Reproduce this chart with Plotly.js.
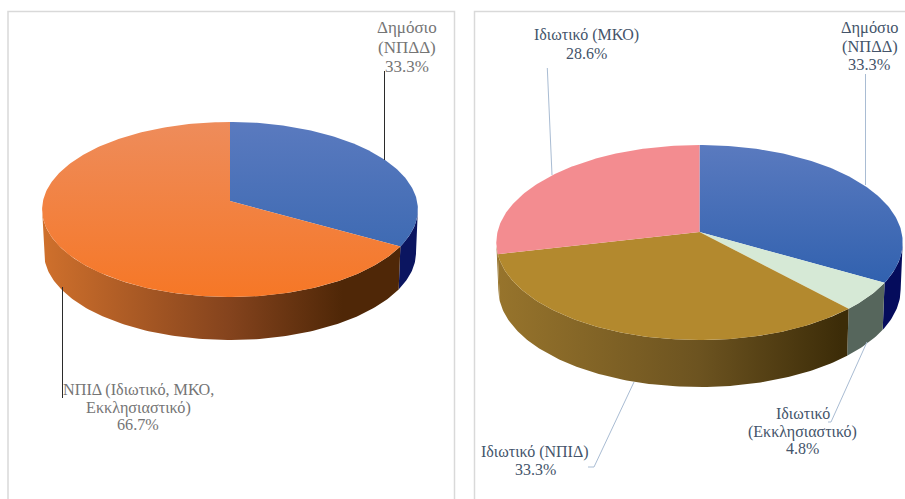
<!DOCTYPE html>
<html><head><meta charset="utf-8">
<script src="https://cdn.plot.ly/plotly-3.0.1.min.js"></script>
<style>html,body{margin:0;padding:0;background:#fff}#c{width:905px;height:499px}</style>
</head><body><div id="c"></div>
<script>
// Data
const leftCategories = ['Δημόσιο<br>(ΝΠΔΔ)', 'ΝΠΙΔ (Ιδιωτικό, ΜΚΟ,<br>Εκκλησιαστικό)'];
const leftValues = [33.3, 66.7];
const rightCategories = ['Δημόσιο<br>(ΝΠΔΔ)', 'Ιδιωτικό<br>(Εκκλησιαστικό)', 'Ιδιωτικό (ΝΠΙΔ)', 'Ιδιωτικό (ΜΚΟ)'];
const rightValues = [33.3, 4.8, 33.3, 28.6];

// Style
const leftTop = [['#5a7abf','#3364ae'], ['#ee8c5b','#f67726']];
const leftWall = [
  [[0,'#0b1560'],[1,'#0b1560']],
  [[0,'#cf702c'],[0.5,'#84431d'],[0.8,'#4f2707'],[1,'#4f2707']]
];
const rightTop = [['#5a7abf','#2f60ae'], ['#d6e9d6','#d6e9d6'], ['#b3892e','#b3892e'], ['#f38c90','#f38c90']];
const rightWall = [
  [[0,'#050c5c'],[1,'#050c5c']],
  [[0,'#56665c'],[1,'#56665c']],
  [[0,'#97742c'],[0.5,'#6c5320'],[0.85,'#3c2c08'],[1,'#3c2c08']],
  [[0,'#97742c'],[1,'#97742c']]
];
const leftGeom = {cx:230, cy:201, a:187, b:86.7, k:0.097, depth:43, shrink:0.99, top:122, bottom:298};
const rightGeom = {cx:699.5, cy:232, a:202, b:96.4, k:0.1076, depth:47, shrink:0.99, top:145, bottom:290};

function project(g, deg, dy, s){
  const t = deg*Math.PI/180, u = Math.sin(t), v = Math.cos(t), w = 1 + g.k*v;
  return [g.cx + s*g.a*u/w, g.cy - g.b*v/w + dy];
}
function arc(g, from, to, dy, s){
  const pts = [], n = Math.max(2, Math.ceil(Math.abs(to-from)));
  for(let i=0;i<=n;i++) pts.push(project(g, from+(to-from)*i/n, dy, s));
  return pts;
}
function pieTraces(g, cats, vals, tops, walls){
  const total = vals.reduce((a,b)=>a+b,0), walled = [], faces = [];
  const front0 = Math.acos(-g.k)*180/Math.PI, front1 = 360-front0;
  let acc = 0;
  vals.forEach((val,i)=>{
    const start = acc/total*360, end = (acc+val)/total*360; acc += val;
    const name = cats[i].replace('<br>',' ')+': '+val.toFixed(1)+'%';
    const w0 = Math.max(start,front0), w1 = Math.min(end,front1);
    if(w1>w0){
      const pts = arc(g,w0,w1,0,1).concat(arc(g,w1,w0,g.depth,g.shrink));
      walled.push({type:'scatter',mode:'lines',x:pts.map(p=>p[0]),y:pts.map(p=>p[1]),
        fill:'toself',line:{width:0},hoverinfo:'text',text:name,showlegend:false,
        fillcolor:walls[i][0][1],
        fillgradient:{type:'horizontal',colorscale:walls[i],start:g.cx-g.a,stop:g.cx+g.a}});
    }
    const pts = [[g.cx,g.cy]].concat(arc(g,start,end,0,1),[[g.cx,g.cy]]);
    faces.push({type:'scatter',mode:'lines',x:pts.map(p=>p[0]),y:pts.map(p=>p[1]),
      fill:'toself',line:{width:0},hoverinfo:'text',text:name,showlegend:false,
      fillcolor:tops[i][1],
      fillgradient:{type:'vertical',colorscale:[[0,tops[i][0]],[1,tops[i][1]]],start:g.top,stop:g.bottom}});
  });
  return walled.concat(faces);
}

const traces = pieTraces(leftGeom,leftCategories,leftValues,leftTop,leftWall)
  .concat(pieTraces(rightGeom,rightCategories,rightValues,rightTop,rightWall));

// one annotation per text line, because the reference's line spacing is tighter than Plotly's
function label(text,val,x,ys,size,color){
  const lines = text.split('<br>').concat(val.toFixed(1)+'%');
  return lines.map((t,i)=>({x,y:ys[i],xref:'x',yref:'y',text:t,showarrow:false,
    xanchor:'center',yanchor:'middle',align:'center',
    font:{family:'"Liberation Serif",serif',size,color}}));
}
const grey='#757575', slate='#44546a';
const annotations = [].concat(
  label(leftCategories[0],leftValues[0],407,[27,47,66],17,grey),
  label(leftCategories[1],leftValues[1],138,[390,408,425],16.2,grey),
  label(rightCategories[0],rightValues[0],869.5,[27.5,46,64],16.4,slate),
  label(rightCategories[1],rightValues[1],802.5,[413,431.5,448.5],16,slate),
  label(rightCategories[2],rightValues[2],535,[452,469],16,slate),
  label(rightCategories[3],rightValues[3],586.5,[35,53],16,slate)
);

function path(points,color,width){
  return {type:'path',xref:'x',yref:'y',layer:'above',
    path:'M'+points.map(p=>p.join(',')).join('L'),line:{color,width}};
}
const panel='#d9d9d9', leaderR='#a9bcd3', leaderL='#2b2b2b';
const shapes = [
  path([[8,499],[8,11.5],[454.5,11.5],[454.5,499]],panel,1.5),
  path([[474.5,499],[474.5,11.5],[905,11.5]],panel,1.5),
  path([[384.5,71],[384.5,160]],leaderL,1),
  path([[62.5,287],[62.5,398]],leaderL,1),
  path([[547.3,68],[552,175]],leaderR,1),
  path([[865.5,74],[865.5,185]],leaderR,1),
  path([[867,342],[831,422],[828,422]],leaderR,1),
  path([[634,382],[594,467],[588,467]],leaderR,1)
];

Plotly.newPlot('c',traces,{
  width:905,height:499,margin:{l:0,r:0,t:0,b:0},
  paper_bgcolor:'#fff',plot_bgcolor:'#fff',showlegend:false,hovermode:'closest',
  xaxis:{range:[0,905],visible:false,fixedrange:true},
  yaxis:{range:[499,0],visible:false,fixedrange:true},
  annotations,shapes
},{displayModeBar:false});
</script></body></html>
